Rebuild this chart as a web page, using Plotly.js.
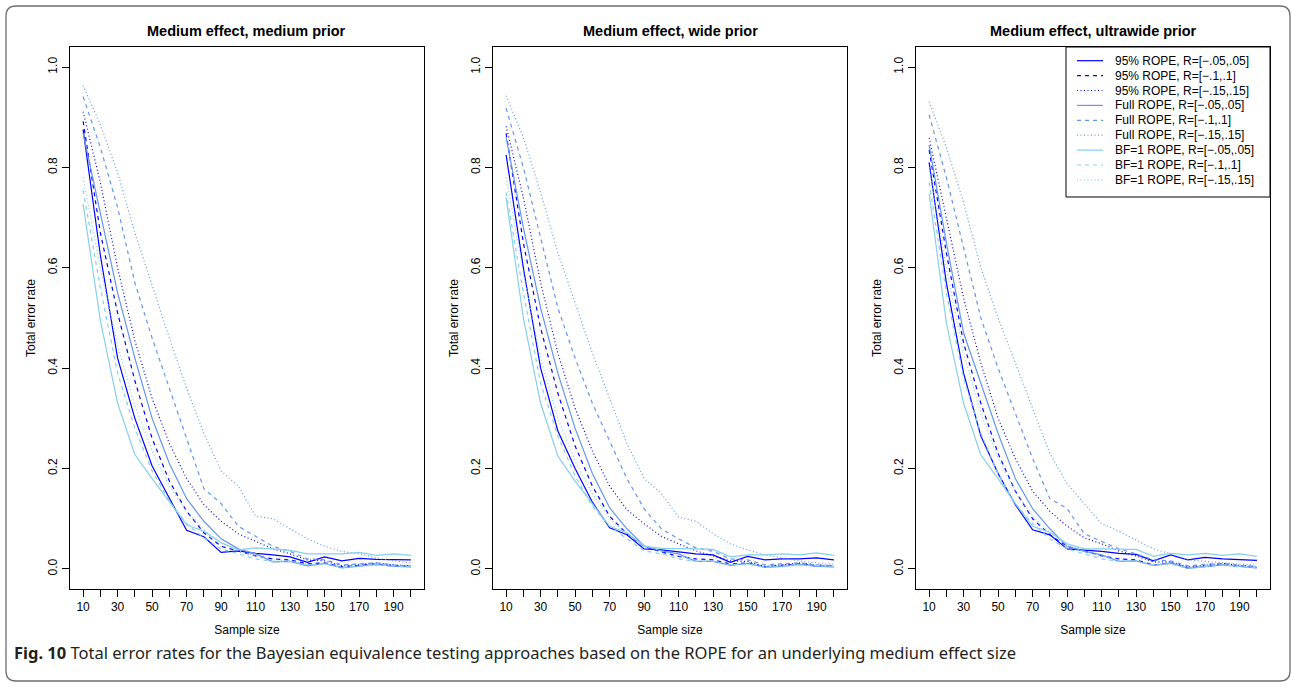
<!DOCTYPE html>
<html>
<head>
<meta charset="utf-8">
<script src="https://cdn.plot.ly/plotly-3.0.1.min.js"></script>
<style>
  html, body { margin: 0; padding: 0; background: #fff; }
  #chart { width: 1292px; height: 687px; }
</style>
</head>
<body>
<div id="chart"></div>
<script>
// Sample sizes on the x axis
const sampleSize = [10, 20, 30, 40, 50, 60, 70, 80, 90, 100, 110, 120, 130, 140, 150, 160, 170, 180, 190, 200];

const panelTitles = ['Medium effect, medium prior', 'Medium effect, wide prior', 'Medium effect, ultrawide prior'];
const seriesNames = [
  '95% ROPE, R=[\u2212.05,.05]', '95% ROPE, R=[\u2212.1,.1]', '95% ROPE, R=[\u2212.15,.15]',
  'Full ROPE, R=[\u2212.05,.05]', 'Full ROPE, R=[\u2212.1,.1]', 'Full ROPE, R=[\u2212.15,.15]',
  'BF=1 ROPE, R=[\u2212.05,.05]', 'BF=1 ROPE, R=[\u2212.1,.1]', 'BF=1 ROPE, R=[\u2212.15,.15]'
];
const yTickVals = [0, 0.2, 0.4, 0.6, 0.8, 1.0];
const yTickText = ['0.0', '0.2', '0.4', '0.6', '0.8', '1.0'];

// Total error rates, medium prior
const medium_rope95_05 = [0.876, 0.625, 0.42, 0.30, 0.205, 0.14, 0.077, 0.064, 0.033, 0.036, 0.031, 0.028, 0.024, 0.013, 0.024, 0.016, 0.021, 0.019, 0.019, 0.018];
const medium_rope95_10 = [0.892, 0.67, 0.51, 0.375, 0.26, 0.175, 0.115, 0.072, 0.045, 0.035, 0.026, 0.02, 0.018, 0.01, 0.012, 0.004, 0.007, 0.01, 0.006, 0.005];
const medium_rope95_15 = [0.911, 0.77, 0.60, 0.455, 0.34, 0.25, 0.18, 0.128, 0.095, 0.07, 0.055, 0.04, 0.03, 0.018, 0.016, 0.006, 0.009, 0.012, 0.008, 0.006];
const medium_full_05 = [0.868, 0.71, 0.55, 0.42, 0.30, 0.21, 0.14, 0.095, 0.06, 0.04, 0.03, 0.014, 0.015, 0.006, 0.011, 0.002, 0.005, 0.009, 0.005, 0.004];
const medium_full_10 = [0.941, 0.84, 0.72, 0.57, 0.46, 0.36, 0.26, 0.16, 0.13, 0.085, 0.065, 0.045, 0.035, 0.02, 0.018, 0.008, 0.01, 0.012, 0.008, 0.006];
const medium_full_15 = [0.963, 0.885, 0.79, 0.67, 0.565, 0.46, 0.36, 0.27, 0.195, 0.165, 0.105, 0.10, 0.08, 0.06, 0.045, 0.035, 0.03, 0.022, 0.016, 0.012];
const medium_bf1_05 = [0.727, 0.495, 0.33, 0.228, 0.18, 0.135, 0.088, 0.075, 0.052, 0.038, 0.042, 0.04, 0.037, 0.03, 0.03, 0.03, 0.033, 0.027, 0.03, 0.027];
const medium_bf1_10 = [0.755, 0.56, 0.39, 0.28, 0.195, 0.135, 0.09, 0.062, 0.04, 0.03, 0.02, 0.015, 0.015, 0.008, 0.01, 0.003, 0.006, 0.008, 0.006, 0.004];
const medium_bf1_15 = [0.78, 0.60, 0.445, 0.325, 0.235, 0.165, 0.115, 0.078, 0.052, 0.036, 0.026, 0.018, 0.016, 0.008, 0.01, 0.004, 0.006, 0.009, 0.006, 0.005];

// Total error rates, wide prior
const wide_rope95_05 = [0.825, 0.60, 0.40, 0.275, 0.20, 0.133, 0.082, 0.068, 0.04, 0.038, 0.034, 0.03, 0.028, 0.013, 0.025, 0.018, 0.02, 0.02, 0.022, 0.018];
const wide_rope95_10 = [0.868, 0.65, 0.48, 0.35, 0.245, 0.165, 0.105, 0.07, 0.045, 0.034, 0.025, 0.02, 0.018, 0.01, 0.012, 0.004, 0.007, 0.01, 0.006, 0.005];
const wide_rope95_15 = [0.882, 0.74, 0.57, 0.43, 0.32, 0.235, 0.165, 0.118, 0.09, 0.065, 0.05, 0.036, 0.026, 0.016, 0.015, 0.005, 0.008, 0.012, 0.008, 0.006];
const wide_full_05 = [0.86, 0.68, 0.52, 0.39, 0.28, 0.19, 0.122, 0.08, 0.046, 0.036, 0.03, 0.015, 0.015, 0.007, 0.011, 0.003, 0.005, 0.009, 0.005, 0.004];
const wide_full_10 = [0.918, 0.80, 0.66, 0.52, 0.42, 0.33, 0.255, 0.18, 0.12, 0.08, 0.06, 0.042, 0.035, 0.02, 0.018, 0.008, 0.01, 0.012, 0.008, 0.006];
const wide_full_15 = [0.943, 0.86, 0.75, 0.63, 0.53, 0.43, 0.34, 0.25, 0.18, 0.15, 0.103, 0.095, 0.07, 0.05, 0.038, 0.028, 0.022, 0.016, 0.012, 0.009];
const wide_bf1_05 = [0.74, 0.50, 0.33, 0.225, 0.175, 0.13, 0.085, 0.072, 0.045, 0.041, 0.041, 0.04, 0.039, 0.024, 0.028, 0.028, 0.03, 0.028, 0.032, 0.027];
const wide_bf1_10 = [0.75, 0.55, 0.37, 0.265, 0.185, 0.125, 0.085, 0.06, 0.036, 0.03, 0.02, 0.015, 0.015, 0.008, 0.01, 0.003, 0.006, 0.008, 0.006, 0.004];
const wide_bf1_15 = [0.78, 0.59, 0.42, 0.30, 0.215, 0.15, 0.10, 0.07, 0.046, 0.035, 0.025, 0.018, 0.016, 0.009, 0.01, 0.004, 0.006, 0.009, 0.006, 0.005];

// Total error rates, ultrawide prior
const ultra_rope95_05 = [0.81, 0.57, 0.39, 0.265, 0.19, 0.128, 0.078, 0.068, 0.04, 0.038, 0.035, 0.031, 0.029, 0.016, 0.028, 0.018, 0.023, 0.02, 0.018, 0.017];
const ultra_rope95_10 = [0.835, 0.63, 0.45, 0.33, 0.23, 0.155, 0.10, 0.068, 0.045, 0.035, 0.026, 0.02, 0.018, 0.008, 0.012, 0.002, 0.006, 0.009, 0.005, 0.003];
const ultra_rope95_15 = [0.859, 0.70, 0.54, 0.41, 0.30, 0.22, 0.155, 0.115, 0.085, 0.062, 0.05, 0.036, 0.026, 0.014, 0.014, 0.004, 0.007, 0.011, 0.007, 0.004];
const ultra_full_05 = [0.845, 0.65, 0.47, 0.37, 0.27, 0.18, 0.12, 0.08, 0.045, 0.035, 0.028, 0.015, 0.016, 0.007, 0.012, 0.001, 0.005, 0.008, 0.005, 0.002];
const ultra_full_10 = [0.905, 0.78, 0.64, 0.50, 0.40, 0.31, 0.22, 0.14, 0.12, 0.07, 0.055, 0.04, 0.03, 0.018, 0.016, 0.006, 0.009, 0.011, 0.007, 0.005];
const ultra_full_15 = [0.931, 0.84, 0.73, 0.60, 0.50, 0.41, 0.32, 0.23, 0.17, 0.13, 0.09, 0.075, 0.058, 0.04, 0.03, 0.018, 0.015, 0.012, 0.009, 0.007];
const ultra_bf1_05 = [0.748, 0.49, 0.33, 0.227, 0.18, 0.13, 0.085, 0.073, 0.05, 0.04, 0.04, 0.039, 0.039, 0.025, 0.031, 0.028, 0.031, 0.027, 0.03, 0.025];
const ultra_bf1_10 = [0.77, 0.55, 0.38, 0.27, 0.19, 0.13, 0.09, 0.06, 0.04, 0.03, 0.02, 0.015, 0.015, 0.007, 0.01, 0.001, 0.005, 0.008, 0.005, 0.002];
const ultra_bf1_15 = [0.80, 0.60, 0.43, 0.31, 0.22, 0.155, 0.105, 0.072, 0.05, 0.035, 0.025, 0.018, 0.016, 0.008, 0.01, 0.003, 0.006, 0.009, 0.006, 0.004];

const panelSeries = [
  [medium_rope95_05, medium_rope95_10, medium_rope95_15, medium_full_05, medium_full_10, medium_full_15, medium_bf1_05, medium_bf1_10, medium_bf1_15],
  [wide_rope95_05, wide_rope95_10, wide_rope95_15, wide_full_05, wide_full_10, wide_full_15, wide_bf1_05, wide_bf1_10, wide_bf1_15],
  [ultra_rope95_05, ultra_rope95_10, ultra_rope95_15, ultra_full_05, ultra_full_10, ultra_full_15, ultra_bf1_05, ultra_bf1_10, ultra_bf1_15]
];

// Line styling: colour per ROPE type, dash per ROPE width
const ropeColors = ['#0000ff', '#6495ed', '#87ceeb'];
const ropeDashes = ['solid', '4px,4px', '1px,2.5px'];
function styleOf(i) {
  return { color: ropeColors[Math.floor(i / 3)], dash: ropeDashes[i % 3], width: 1.2 };
}

// Page geometry (pixels)
const W = 1292, H = 687;
const px = v => v / W;
const py = v => 1 - v / H;
const panelLeft = [70, 493, 916];
const panelWidth = 354;
const plotTop = 47, plotBottom = 589;

const axisFont = { family: 'Liberation Sans, Arial, Helvetica, sans-serif', size: 12, color: '#000' };

const traces = [];
panelSeries.forEach((series, p) => {
  const sfx = p === 0 ? '' : String(p + 1);
  series.forEach((vals, i) => {
    traces.push({
      type: 'scatter', mode: 'lines',
      x: sampleSize, y: vals,
      xaxis: 'x' + sfx, yaxis: 'y' + sfx,
      name: seriesNames[i],
      line: styleOf(i),
      showlegend: false,
      hoverinfo: 'skip'
    });
  });
});

const layout = {
  width: W, height: H,
  margin: { l: 0, r: 0, t: 0, b: 0 },
  paper_bgcolor: '#fff', plot_bgcolor: '#fff',
  showlegend: false,
  shapes: [], annotations: []
};

panelTitles.forEach((title, p) => {
  const sfx = p === 0 ? '' : String(p + 1);
  layout['xaxis' + sfx] = {
    domain: [px(panelLeft[p]), px(panelLeft[p] + panelWidth)],
    anchor: 'y' + sfx,
    range: [2.4, 207.6],
    tickmode: 'array',
    tickvals: sampleSize,
    ticktext: sampleSize.map((v, i) => (i % 2 === 0 ? String(v) : '')),
    ticks: 'outside', ticklen: 7, tickwidth: 1, tickcolor: '#000',
    showline: true, linecolor: '#000', linewidth: 1, mirror: true,
    showgrid: false, zeroline: false,
    tickfont: axisFont,
    title: { text: 'Sample size', font: axisFont, standoff: 12 },
    fixedrange: true
  };
  layout['yaxis' + sfx] = {
    domain: [py(plotBottom), py(plotTop)],
    anchor: 'x' + sfx,
    range: [-0.04, 1.04],
    tickmode: 'array',
    tickvals: yTickVals,
    ticktext: yTickText,
    tickangle: -90,
    ticks: 'outside', ticklen: 7, tickwidth: 1, tickcolor: '#000',
    showline: true, linecolor: '#000', linewidth: 1, mirror: true,
    showgrid: false, zeroline: false,
    tickfont: axisFont,
    title: { text: 'Total error rate', font: axisFont, standoff: 8 },
    fixedrange: true
  };
  layout.annotations.push({
    xref: 'paper', yref: 'paper',
    x: px(panelLeft[p] + panelWidth / 2), y: py(30.5),
    xanchor: 'center', yanchor: 'middle',
    text: '<b>' + title + '</b>',
    showarrow: false,
    font: { family: 'Liberation Sans, Arial, Helvetica, sans-serif', size: 14.5, color: '#000' }
  });
});

// Legend box in the top-right corner of the third panel
const legLeft = 1066, legRight = panelLeft[2] + panelWidth, legTop = plotTop, legBottom = 197;
layout.shapes.push({
  type: 'rect', xref: 'paper', yref: 'paper',
  x0: px(legLeft), x1: px(legRight), y0: py(legBottom), y1: py(legTop),
  line: { color: '#000', width: 1 }, fillcolor: '#fff', layer: 'above'
});
seriesNames.forEach((name, i) => {
  const yc = 60.7 + i * 14.9;
  const st = styleOf(i);
  layout.shapes.push({
    type: 'line', xref: 'paper', yref: 'paper',
    x0: px(1077), x1: px(1103), y0: py(yc), y1: py(yc),
    line: { color: st.color, width: st.width, dash: st.dash }, layer: 'above'
  });
  layout.annotations.push({
    xref: 'paper', yref: 'paper',
    x: px(1113), y: py(yc),
    xanchor: 'left', yanchor: 'middle',
    text: name, showarrow: false,
    font: { family: 'Liberation Sans, Arial, Helvetica, sans-serif', size: 12, color: '#000' }
  });
});

// Rounded outer frame around the figure and its caption
const fl = 6, ft = 6, fr = 1290, fb = 681, rad = 10;
const framePath = [
  'M', px(fl + rad), py(ft),
  'L', px(fr - rad), py(ft),
  'Q', px(fr), py(ft), px(fr), py(ft + rad),
  'L', px(fr), py(fb - rad),
  'Q', px(fr), py(fb), px(fr - rad), py(fb),
  'L', px(fl + rad), py(fb),
  'Q', px(fl), py(fb), px(fl), py(fb - rad),
  'L', px(fl), py(ft + rad),
  'Q', px(fl), py(ft), px(fl + rad), py(ft),
  'Z'
].join(' ');
layout.shapes.push({
  type: 'path', xref: 'paper', yref: 'paper', path: framePath,
  line: { color: '#6d6e70', width: 1.3 }, layer: 'below'
});

// Figure caption
layout.annotations.push({
  xref: 'paper', yref: 'paper',
  x: px(12), y: py(652),
  xanchor: 'left', yanchor: 'middle',
  text: '<b>Fig. 10</b> Total error rates for the Bayesian equivalence testing approaches based on the ROPE for an underlying medium effect size',
  showarrow: false,
  font: { family: 'Noto Sans, Open Sans, sans-serif', size: 16.5, color: '#231f20' }
});

Plotly.newPlot('chart', traces, layout, { displayModeBar: false, staticPlot: true });
</script>
</body>
</html>
